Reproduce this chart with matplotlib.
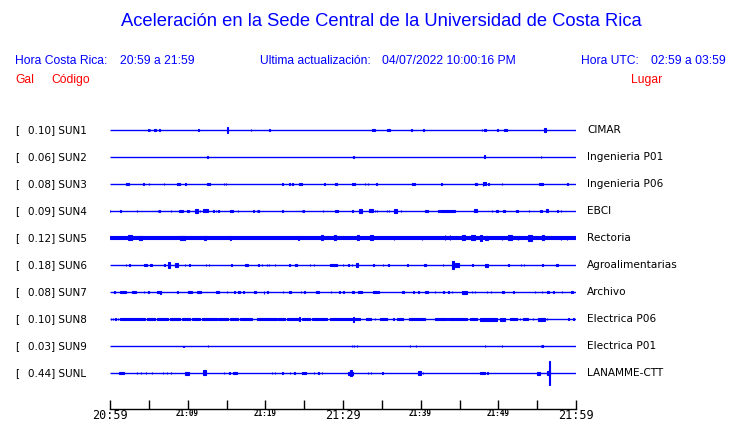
import matplotlib
matplotlib.use("Agg")
import matplotlib.pyplot as plt

# station data: code, peak acceleration (Gal), place
codes = ["SUN1", "SUN2", "SUN3", "SUN4", "SUN5", "SUN6", "SUN7", "SUN8", "SUN9", "SUNL"]
peaks = [0.10, 0.06, 0.08, 0.09, 0.12, 0.18, 0.08, 0.10, 0.03, 0.44]
places = ["CIMAR", "Ingenieria P01", "Ingenieria P06", "EBCI", "Rectoria",
          "Agroalimentarias", "Archivo", "Electrica P06", "Electrica P01", "LANAMME-CTT"]

# bursts: (minute after 20:59, half amplitude, duration in minutes)
sun1 = [(4.93, 1.3, 0.05), (5.15, 1.0, 0.05), (5.7, 1.2, 0.2), (6.35, 1.3, 0.05), (11.37, 1.2, 0.04),
        (15.0, 2.7, 0.2), (18.12, 1.2, 0.04), (20.51, 0.8, 0.04), (33.7, 1.2, 0.4), (35.65, 1.2, 0.35),
        (38.8, 1.2, 0.13), (40.34, 1.2, 0.04), (47.86, 1.2, 0.06), (48.1, 1.2, 0.26), (49.8, 1.0, 0.2),
        (50.7, 1.2, 0.4), (55.9, 2.0, 0.26)]
sun2 = [(12.5, 1.0, 0.17), (31.33, 1.2, 0.04), (48.2, 1.5, 0.13), (55.5, 1.0, 0.04)]
sun3 = [(2.05, 1.2, 0.39), (4.29, 1.0, 0.04), (4.98, 1.2, 0.06), (6.91, 0.8, 0.04), (8.65, 1.2, 0.33),
        (9.6, 1.2, 0.2), (12.5, 1.2, 0.39), (14.68, 1.0, 0.04), (14.94, 1.0, 0.04), (22.19, 0.8, 0.04),
        (23.09, 1.0, 0.04), (23.47, 1.0, 0.04), (24.35, 1.2, 0.33), (27.59, 1.0, 0.04), (29.0, 1.2, 0.2),
        (31.2, 1.2, 0.39), (32.83, 1.0, 0.04), (33.18, 1.0, 0.04), (34.29, 0.8, 0.04), (38.9, 1.2, 0.39),
        (42.66, 0.8, 0.04), (47.0, 1.2, 0.2), (47.98, 1.8, 0.06), (48.07, 1.5, 0.39), (48.71, 1.0, 0.04),
        (50.43, 1.0, 0.04), (55.3, 1.3, 0.39), (58.87, 1.0, 0.04)]
sun4 = [(0.0, 1.0, 0.04), (1.3, 0.8, 0.13), (3.44, 0.8, 0.04), (6.14, 0.8, 0.04), (6.35, 0.8, 0.04),
        (7.82, 1.0, 0.04), (8.88, 1.2, 0.56), (9.85, 1.2, 0.26), (10.95, 2.0, 0.39), (11.59, 1.0, 0.04),
        (11.94, 1.5, 0.65), (13.3, 1.0, 0.04), (13.65, 1.0, 0.04), (13.94, 1.0, 0.04), (15.5, 1.2, 0.39),
        (16.44, 0.8, 0.04), (18.45, 0.8, 0.04), (18.89, 1.0, 0.04), (19.09, 1.0, 0.04), (22.19, 1.0, 0.04),
        (24.68, 0.8, 0.04), (24.89, 0.8, 0.04), (27.39, 1.0, 0.04), (29.0, 1.2, 0.39), (31.2, 0.8, 0.04),
        (32.1, 2.0, 0.39), (33.3, 1.5, 0.52), (34.12, 1.0, 0.04), (34.34, 1.0, 0.04), (35.63, 0.8, 0.04),
        (35.92, 1.0, 0.04), (36.6, 2.0, 0.39), (37.43, 0.8, 0.04), (40.5, 1.2, 0.39), (42.27, 1.3, 0.04),
        (42.49, 1.2, 1.93), (42.71, 1.3, 0.04), (46.91, 1.5, 0.39), (49.15, 0.8, 0.04), (49.7, 1.2, 0.2),
        (50.6, 1.2, 0.26), (52.3, 1.2, 0.26), (53.95, 0.8, 0.04), (55.4, 1.2, 0.26), (56.1, 1.5, 0.26),
        (57.59, 1.0, 0.04), (58.07, 1.0, 0.04)]
sun5 = [(0.0, 1.5, 60.0), (2.3, 2.5, 0.52), (3.7, 2.0, 0.39), (9.0, 2.0, 0.64), (12.1, 2.0, 0.26),
        (15.4, 1.8, 0.13), (24.2, 2.0, 0.13), (27.2, 2.5, 0.2), (28.8, 2.5, 0.26), (31.8, 2.5, 0.26),
        (33.5, 2.5, 0.39), (36.57, 2.0, 0.06), (40.13, 1.8, 0.06), (43.13, 2.5, 0.06), (43.78, 2.5, 0.06),
        (45.3, 2.5, 0.39), (46.5, 2.5, 0.52), (47.64, 3.0, 0.2), (48.3, 2.2, 0.39), (50.43, 2.0, 0.06),
        (51.2, 2.5, 0.52), (52.49, 2.0, 0.06), (53.8, 3.0, 0.52), (55.66, 2.5, 0.26), (58.07, 2.0, 0.06),
        (58.8, 2.0, 0.06)]
sun6 = [(2.02, 1.0, 0.04), (2.49, 1.0, 0.04), (4.38, 1.2, 0.33), (5.15, 1.2, 0.26), (6.99, 1.0, 0.04),
        (7.5, 3.0, 0.26), (8.4, 2.0, 0.39), (9.66, 1.0, 0.04), (10.21, 1.0, 0.04), (12.36, 1.2, 0.04),
        (12.71, 1.2, 0.04), (15.62, 1.0, 0.04), (17.35, 1.2, 0.39), (19.09, 1.2, 0.04), (19.53, 1.2, 0.04),
        (20.18, 1.2, 0.04), (20.47, 1.2, 0.04), (21.25, 0.8, 0.04), (23.09, 0.8, 0.04), (23.85, 1.2, 0.26),
        (25.75, 1.0, 0.04), (26.27, 1.0, 0.04), (28.33, 1.2, 0.86), (29.96, 1.0, 0.04), (30.68, 1.0, 0.04),
        (31.12, 1.0, 0.04), (31.7, 2.0, 0.26), (33.9, 0.8, 0.04), (35.11, 0.8, 0.04), (35.83, 0.8, 0.04),
        (38.28, 0.8, 0.04), (40.45, 1.2, 0.26), (42.84, 1.2, 0.04), (44.0, 4.0, 0.26), (44.42, 2.0, 0.52),
        (46.65, 1.0, 0.04), (48.3, 1.5, 0.39), (51.29, 1.0, 0.04), (52.88, 1.0, 0.04), (53.31, 1.0, 0.04),
        (55.66, 1.0, 0.04), (57.45, 1.2, 0.26)]
sun7 = [(0.55, 1.0, 0.04), (1.29, 1.2, 0.77), (2.79, 1.2, 0.52), (4.38, 1.0, 0.04), (4.93, 1.2, 0.13),
        (6.09, 1.2, 0.52), (6.5, 1.5, 0.04), (8.67, 1.0, 0.04), (10.08, 1.2, 0.52), (11.2, 1.2, 0.52),
        (13.6, 1.2, 0.39), (15.03, 1.0, 0.04), (16.0, 1.0, 0.04), (16.5, 1.2, 0.2), (17.16, 1.0, 0.04),
        (18.55, 1.2, 0.26), (19.83, 1.5, 0.04), (20.25, 1.0, 0.04), (22.24, 1.0, 0.04), (23.1, 1.2, 0.2),
        (24.55, 1.2, 0.04), (25.02, 1.2, 0.04), (26.55, 1.2, 0.39), (28.42, 1.0, 0.04), (29.52, 1.2, 0.04),
        (30.04, 1.2, 0.04), (31.2, 1.2, 0.26), (31.95, 1.2, 0.52), (33.85, 1.2, 0.52), (34.55, 1.0, 0.04),
        (37.65, 1.2, 0.26), (39.05, 1.0, 0.04), (39.7, 1.0, 0.04), (40.6, 1.2, 0.39), (41.85, 1.0, 0.04),
        (42.85, 1.2, 0.2), (43.56, 1.0, 0.04), (44.0, 1.0, 0.04), (45.28, 1.5, 0.65), (46.57, 1.0, 0.04),
        (46.99, 1.0, 0.04), (48.5, 1.0, 0.04), (49.02, 0.8, 0.04), (50.45, 1.2, 0.26), (51.93, 1.0, 0.04),
        (54.72, 0.8, 0.04), (55.58, 0.8, 0.04), (56.3, 1.2, 0.26), (57.08, 1.0, 0.04), (58.16, 1.0, 0.04),
        (59.3, 1.2, 0.26)]
sun8 = [(0.13, 1.0, 0.04), (0.39, 0.8, 0.04), (0.7, 0.8, 0.04), (1.03, 0.8, 0.04), (1.29, 1.3, 3.22),
        (4.73, 1.3, 1.07), (6.01, 1.3, 1.5), (7.73, 1.3, 1.29), (9.23, 1.3, 1.07), (10.52, 1.3, 1.07),
        (11.81, 1.3, 1.93), (13.94, 1.3, 1.29), (15.45, 1.3, 1.07), (16.74, 1.3, 1.51), (18.89, 1.3, 2.57),
        (21.63, 1.3, 0.9), (22.75, 1.3, 1.5), (24.37, 2.0, 0.1), (24.68, 1.3, 1.07), (25.97, 1.3, 1.93),
        (28.33, 1.3, 2.79), (31.33, 2.5, 0.13), (31.55, 1.3, 0.64), (32.96, 1.3, 0.61), (34.12, 1.0, 0.04),
        (34.77, 1.3, 0.86), (36.48, 1.0, 0.04), (36.91, 1.3, 0.86), (38.54, 1.3, 2.01), (41.85, 1.3, 1.5),
        (43.56, 1.3, 2.37), (46.35, 1.3, 0.86), (47.64, 1.5, 2.15), (50.22, 1.5, 0.64), (51.5, 1.3, 0.86),
        (52.79, 1.0, 0.04), (53.22, 1.3, 0.64), (54.43, 1.0, 0.04), (55.15, 1.5, 0.86), (56.23, 1.0, 0.04),
        (59.01, 1.0, 0.04), (59.65, 1.0, 0.04)]
sun9 = [(9.44, 0.5, 0.04), (12.58, 1.0, 0.04), (31.12, 1.0, 0.04), (31.42, 1.0, 0.04), (31.76, 0.6, 0.04),
        (38.63, 1.0, 0.04), (39.36, 0.6, 0.04), (48.28, 1.0, 0.04), (50.43, 0.6, 0.04), (55.5, 1.0, 0.04),
        (55.66, 0.6, 0.04)]
sunl = [(1.2, 1.2, 0.64), (3.44, 0.8, 0.04), (3.99, 1.0, 0.04), (4.6, 1.0, 0.04), (5.37, 1.2, 0.04),
        (6.79, 1.0, 0.04), (7.3, 1.0, 0.04), (7.82, 1.0, 0.04), (9.66, 1.5, 0.52), (12.01, 2.5, 0.39),
        (14.68, 0.8, 0.04), (15.36, 1.0, 0.04), (15.88, 1.2, 0.52), (20.82, 1.0, 0.04), (21.25, 1.0, 0.04),
        (22.19, 0.8, 0.04), (23.18, 0.8, 0.04), (23.73, 1.0, 0.04), (24.68, 1.2, 0.52), (26.27, 1.0, 0.04),
        (26.82, 1.0, 0.04), (27.26, 1.0, 0.04), (30.61, 1.5, 0.64), (30.9, 2.8, 0.2), (33.18, 1.0, 0.04),
        (33.57, 1.0, 0.04), (35.06, 0.8, 0.04), (39.7, 2.0, 0.39), (40.26, 0.8, 0.04), (47.64, 1.2, 0.64),
        (48.58, 0.8, 0.04), (54.94, 1.5, 0.39), (56.23, 2.0, 0.39), (56.56, 12.0, 0.04)]
traces = [sun1, sun2, sun3, sun4, sun5, sun6, sun7, sun8, sun9, sunl]

tick_minutes = list(range(0, 61, 5))
tick_labels = ["20:59", "", "21:09", "", "21:19", "", "21:29", "", "21:39", "", "21:49", "", "21:59"]

BLUE = "#0000ff"
RED = "#ff0000"
W, H = 740, 423
ROW = 27.0  # pixels between traces


def fx(x):
    return x / W


def fy(y):
    return 1 - y / H


fig = plt.figure(figsize=(W / 100, H / 100), dpi=100)
top_px, bot_px = 115, 409
ax = fig.add_axes([fx(110), fy(bot_px), (576 - 110) / W, (bot_px - top_px) / H])
ax.set_xlim(0, 60)
ax.set_ylim((bot_px - 130) / ROW, (top_px - 130) / ROW)

for i, ev in enumerate(traces):
    ax.hlines(i, 0, 60, color=BLUE, lw=1.0)
    for t, a, d in ev:
        ax.bar(t, 2 * a / ROW, bottom=i - a / ROW, width=d, align="edge",
               color=BLUE, edgecolor=BLUE, linewidth=0.8)

for s in ["top", "left", "right"]:
    ax.spines[s].set_visible(False)
ax.spines["bottom"].set_linewidth(1.0)
ax.set_yticks([])
ax.set_xticks(tick_minutes)
ax.set_xticklabels(tick_labels)
ax.tick_params(axis="x", direction="in", length=6.5, width=1.0, pad=0)
for k, lab in enumerate(ax.get_xticklabels()):
    if tick_minutes[k] % 30 == 0:
        lab.set_fontsize(8.5)
    else:
        lab.set_fontsize(5.5)
        lab.set_fontweight("bold")
    lab.set_family("DejaVu Sans Mono")

# header
sans = "Liberation Sans"
hs = 8.7
fig.text(fx(381), fy(22), "Aceleración en la Sede Central de la Universidad de Costa Rica",
         ha="center", va="center", color=BLUE, fontsize=13.2, family=sans)
hy = fy(61)
fig.text(fx(15), hy, "Hora Costa Rica:", color=BLUE, fontsize=hs, family=sans, va="center")
fig.text(fx(120), hy, "20:59 a 21:59", color=BLUE, fontsize=hs, family=sans, va="center")
fig.text(fx(260), hy, "Ultima actualización:", color=BLUE, fontsize=hs, family=sans, va="center")
fig.text(fx(382), hy, "04/07/2022 10:00:16 PM", color=BLUE, fontsize=hs, family=sans, va="center")
fig.text(fx(581), hy, "Hora UTC:", color=BLUE, fontsize=hs, family=sans, va="center")
fig.text(fx(651), hy, "02:59 a 03:59", color=BLUE, fontsize=hs, family=sans, va="center")
ry = fy(80)
fig.text(fx(15), ry, "Gal", color=RED, fontsize=hs, family=sans, va="center")
fig.text(fx(51), ry, "Código", color=RED, fontsize=hs, family=sans, va="center")
fig.text(fx(631), ry, "Lugar", color=RED, fontsize=hs, family=sans, va="center")

# station labels
for i in range(len(codes)):
    y = fy(130 + ROW * i)
    fig.text(fx(15), y, "[", fontsize=7.5, va="center")
    fig.text(fx(28), y, f"{peaks[i]:.2f}] {codes[i]}", fontsize=7.5, va="center")
    fig.text(fx(587), y, places[i], fontsize=7.6, va="center")

fig.savefig("out.png", dpi=100)
